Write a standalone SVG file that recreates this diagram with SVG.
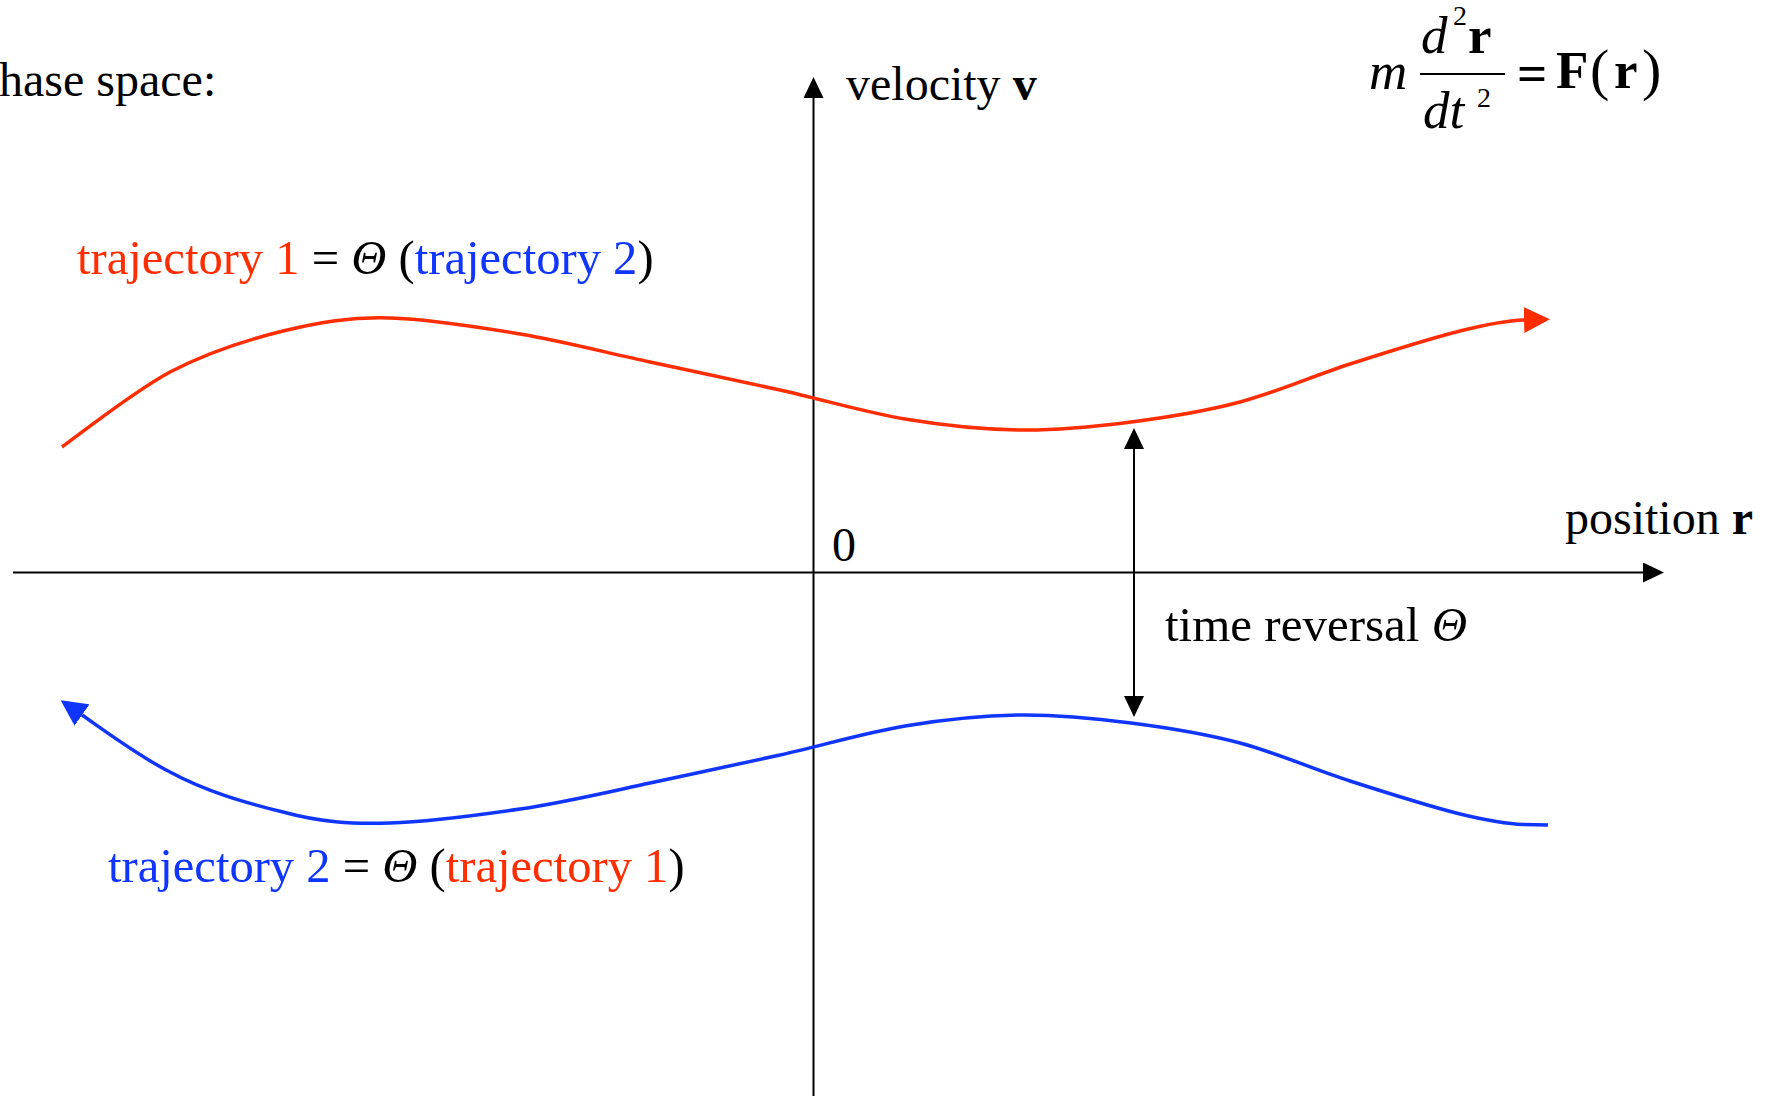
<svg xmlns="http://www.w3.org/2000/svg" width="1774" height="1096" viewBox="0 0 1774 1096">
<style>
text { font-family: "Liberation Serif", "Times New Roman", serif; font-size: 48px; fill: #000; }
.lbl { font-size: 48.6px; }
.red { fill: #ff2d00; }
.blue { fill: #1035ff; }
.it { font-style: italic; }
.b { font-weight: bold; }
.eq { font-size: 53px; }
.sup { font-size: 28px; }
.par { font-size: 58px; }
.axis { stroke: #000; stroke-width: 2; fill: none; }
.traj1 { stroke: #ff2d00; stroke-width: 3.5; fill: none; }
.traj2 { stroke: #1035ff; stroke-width: 3.5; fill: none; }
</style>
<defs>
<marker id="ahK" markerUnits="userSpaceOnUse" markerWidth="21" markerHeight="20" viewBox="0 0 21 20" refX="0" refY="10" orient="auto-start-reverse">
<path d="M0,0 L21,10 L0,20 z" fill="#000"/>
</marker>
<marker id="ahR" markerUnits="userSpaceOnUse" markerWidth="26" markerHeight="26" viewBox="0 0 26 26" refX="0" refY="13" orient="auto">
<path d="M0,0 L26,13 L0,26 z" fill="#ff2d00"/>
</marker>
<marker id="ahB" markerUnits="userSpaceOnUse" markerWidth="26" markerHeight="26" viewBox="0 0 26 26" refX="0" refY="13" orient="auto">
<path d="M0,0 L26,13 L0,26 z" fill="#1035ff"/>
</marker>
</defs>
<rect width="1774" height="1096" fill="#fff"/>

<g id="connectors">
<line id="axis-r" class="axis" x1="13" y1="572.5" x2="1643" y2="572.5" marker-end="url(#ahK)"/>
<line id="axis-v" class="axis" x1="813.5" y1="1096" x2="813.5" y2="98" marker-end="url(#ahK)"/>
<line id="time-reversal" class="axis" x1="1134" y1="449" x2="1134" y2="696" marker-start="url(#ahK)" marker-end="url(#ahK)"/>
<path id="curve1" class="traj1" marker-end="url(#ahR)" d="M62,447 C80,434 133,392 170,372 C206.8,352.7 246.3,340 283,331 C319.7,322 350.5,316.8 390,318 C429.5,319.2 476.7,326.7 520,334 C563.3,341.3 606.7,352.7 650,362 C693.3,371.3 737.5,380.5 780,390 C822.5,399.5 865,412.3 905,419 C945,425.7 982.3,429.5 1020,430 C1057.7,430.5 1094.3,426.7 1131,422 C1167.7,417.3 1203.5,411.7 1240,402 C1276.5,392.3 1313.3,375.8 1350,364 C1386.7,352.2 1431,338.3 1460,331 C1489,323.7 1508,320.5 1524,320"/>
<path id="curve2" class="traj2" marker-end="url(#ahB)" d="M1548,825 L1524,824.5 C1508,824 1489,821 1460,814 C1431,806.7 1386.7,792.8 1350,781 C1313.3,769.2 1276.5,752.7 1240,743 C1203.5,733.3 1167.7,727.7 1131,723 C1094.3,718.3 1057.7,714.5 1020,715 C982.3,715.5 945,719.3 905,726 C865,732.7 822.5,745.5 780,755 C737.5,764.5 693.3,773.7 650,783 C606.7,792.3 563.3,802.7 520,809 C476.7,815.3 429.5,821.8 390,823 C350.5,824.2 319.7,822 283,812 C246.3,803 206.8,792 170,772 C140,757 105,731 82,715"/>
</g>

<g id="phase-space-label">
<text x="-1" y="96">hase space:</text>
</g>

<g id="velocity-label">
<text x="846" y="100">velocity <tspan class="b">v</tspan></text>
</g>

<g id="position-label">
<text x="1565" y="534">position <tspan class="b">r</tspan></text>
</g>

<g id="origin-label">
<text x="832" y="561">0</text>
</g>

<g id="time-reversal-label">
<text x="1165" y="641" style="font-size:49px">time reversal <tspan class="it">Θ</tspan></text>
</g>

<g id="trajectory1-label">
<text class="lbl" x="77" y="274"><tspan class="red">trajectory 1</tspan> = <tspan class="it">Θ</tspan> (<tspan class="blue">trajectory 2</tspan>)</text>
</g>

<g id="trajectory2-label">
<text class="lbl" x="108" y="882"><tspan class="blue">trajectory 2</tspan> = <tspan class="it">Θ</tspan> (<tspan class="red">trajectory 1</tspan>)</text>
</g>

<g id="equation">
<text class="eq it" x="1369" y="89">m</text>
<text class="eq it" x="1421" y="53">d</text>
<text class="sup" x="1453" y="25">2</text>
<text class="eq b" x="1468" y="53">r</text>
<line x1="1420" y1="74" x2="1505" y2="74" stroke="#000" stroke-width="2"/>
<text class="eq it" x="1423" y="128">dt</text>
<text class="sup" x="1477" y="107">2</text>
<text class="eq b" x="1517" y="91">=</text>
<text class="eq b" x="1556" y="88">F</text>
<text class="par" x="1590" y="89">(</text>
<text class="eq b" x="1614" y="88">r</text>
<text class="par" x="1642" y="89">)</text>
</g>
</svg>
